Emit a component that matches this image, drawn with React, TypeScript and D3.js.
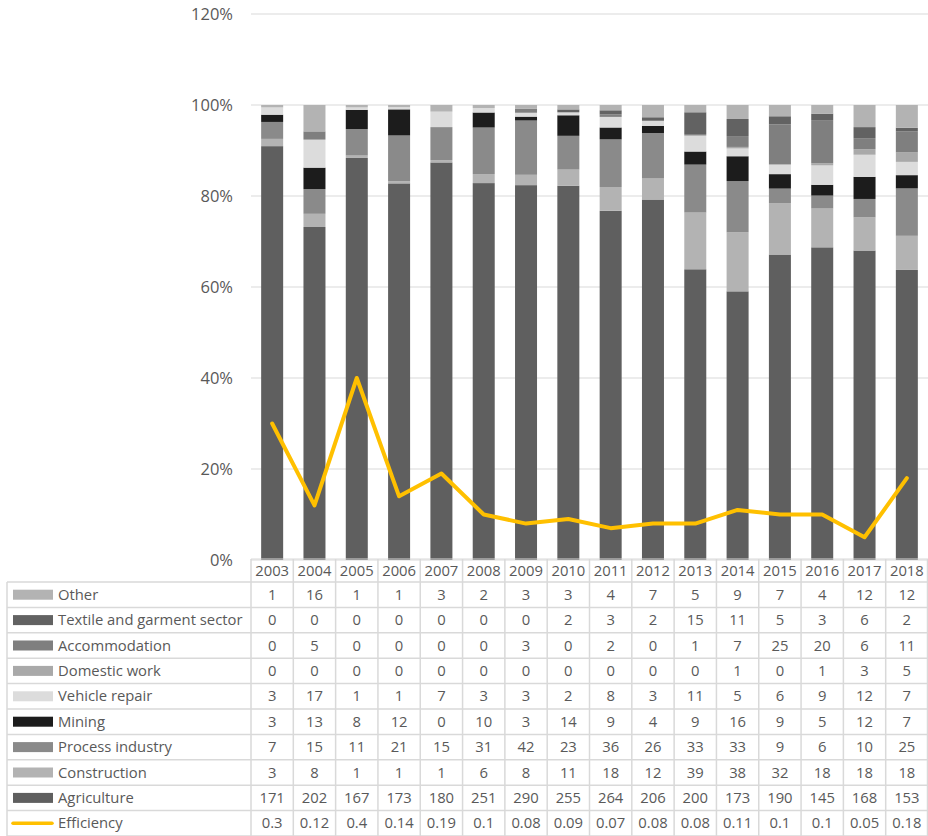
import React from "react";
import * as d3 from "d3";

const years = ["2003","2004","2005","2006","2007","2008","2009","2010","2011","2012","2013","2014","2015","2016","2017","2018"];

// Sector counts per year (stacked bottom → top in this order)
const agriculture = [171,202,167,173,180,251,290,255,264,206,200,173,190,145,168,153];
const construction = [3,8,1,1,1,6,8,11,18,12,39,38,32,18,18,18];
const processIndustry = [7,15,11,21,15,31,42,23,36,26,33,33,9,6,10,25];
const mining = [3,13,8,12,0,10,3,14,9,4,9,16,9,5,12,7];
const vehicleRepair = [3,17,1,1,7,3,3,2,8,3,11,5,6,9,12,7];
const domesticWork = [0,0,0,0,0,0,0,0,0,0,0,1,0,1,3,5];
const accommodation = [0,5,0,0,0,0,3,0,2,0,1,7,25,20,6,11];
const textile = [0,0,0,0,0,0,0,2,3,2,15,11,5,3,6,2];
const other = [1,16,1,1,3,2,3,3,4,7,5,9,7,4,12,12];
const efficiency = [0.3,0.12,0.4,0.14,0.19,0.1,0.08,0.09,0.07,0.08,0.08,0.11,0.1,0.1,0.05,0.18];
const efficiencyLabels = ["0.3","0.12","0.4","0.14","0.19","0.1","0.08","0.09","0.07","0.08","0.08","0.11","0.1","0.1","0.05","0.18"];

const yTicks = [0, 0.2, 0.4, 0.6, 0.8, 1.0, 1.2];

type Series = { key: string; name: string; values: number[]; color: string };

const series: Series[] = [
  { key: "agriculture", name: "Agriculture", values: agriculture, color: "#5f5f5f" },
  { key: "construction", name: "Construction", values: construction, color: "#b3b3b3" },
  { key: "process", name: "Process industry", values: processIndustry, color: "#8a8a8a" },
  { key: "mining", name: "Mining", values: mining, color: "#1c1c1c" },
  { key: "vehicle", name: "Vehicle repair", values: vehicleRepair, color: "#dcdcdc" },
  { key: "domestic", name: "Domestic work", values: domesticWork, color: "#a9a9a9" },
  { key: "accommodation", name: "Accommodation", values: accommodation, color: "#7f7f7f" },
  { key: "textile", name: "Textile and garment sector", values: textile, color: "#626262" },
  { key: "other", name: "Other", values: other, color: "#b3b3b3" },
];

const W = 928;
const H = 836;
const plotLeft = 251;
const plotRight = 928;
const plotTop = 14;
const plotBottom = 560;
const tableTop = 582;
const rowH = 25.4;
const tableLeft = 7;
const FONT = "'Open Sans', sans-serif";
const FS = 14.8;
const TEXT = "#595959";
const GRID = "#d9d9d9";
const LINE = "#ffc000";

export default function App() {
  const x = d3.scaleBand<string>().domain(years).range([plotLeft, plotRight]).padding(0);
  const y = d3.scaleLinear().domain([0, 1.2]).range([plotBottom, plotTop]);
  const barW = x.bandwidth() * 0.52;

  const rows = years.map((yr, i) => {
    const r: Record<string, number | string> = { year: yr };
    series.forEach((s) => (r[s.key] = s.values[i]));
    return r;
  });
  const stack = d3
    .stack<Record<string, number | string>>()
    .keys(series.map((s) => s.key))
    .offset(d3.stackOffsetExpand);
  const layers = stack(rows as any);

  const line = d3
    .line<number>()
    .x((_, i) => (x(years[i]) as number) + x.bandwidth() / 2)
    .y((d) => y(d));

  // table rows top → bottom: series reversed, then the efficiency line
  const tableRows = [...series].reverse();
  const nRows = tableRows.length + 1;

  return (
    <svg
      width={W}
      height={H}
      style={{ position: "absolute", left: 0, top: 0, background: "#fff" }}
      fontFamily={FONT}
    >
      {/* gridlines */}
      {yTicks.map((t) => (
        <line key={t} x1={plotLeft} x2={plotRight} y1={y(t)} y2={y(t)} stroke={GRID} strokeWidth={1} />
      ))}
      {yTicks.map((t) => (
        <text key={"l" + t} x={233} y={y(t)} dy="0.35em" textAnchor="end" fontSize={16.5} fill={TEXT}>
          {d3.format(".0%")(t)}
        </text>
      ))}

      {/* stacked bars */}
      {layers.map((layer, li) => (
        <g key={layer.key} fill={series[li].color}>
          {layer.map((d, i) => {
            const h = y(d[0]) - y(d[1]);
            if (h <= 0) return null;
            return (
              <rect
                key={i}
                x={(x(years[i]) as number) + (x.bandwidth() - barW) / 2}
                y={y(d[1])}
                width={barW}
                height={h}
              />
            );
          })}
        </g>
      ))}

      {/* efficiency line */}
      <path d={line(efficiency) || ""} fill="none" stroke={LINE} strokeWidth={4} strokeLinejoin="round" strokeLinecap="round" />

      {/* data table */}
      <g>
        {/* header row */}
        <line x1={plotLeft} x2={plotRight} y1={plotBottom - 1} y2={plotBottom - 1} stroke={GRID} />
        {years.map((yr) => (
          <text
            key={yr}
            x={(x(yr) as number) + x.bandwidth() / 2}
            y={(plotBottom + tableTop) / 2}
            dy="0.35em"
            textAnchor="middle"
            fontSize={FS}
            fill={TEXT}
          >
            {yr}
          </text>
        ))}
        {/* horizontal rules */}
        {d3.range(nRows + 1).map((k) => (
          <line
            key={"h" + k}
            x1={tableLeft}
            x2={plotRight}
            y1={tableTop + k * rowH}
            y2={tableTop + k * rowH}
            stroke={GRID}
            strokeWidth={1.5}
          />
        ))}
        {/* vertical rules */}
        <line x1={tableLeft} x2={tableLeft} y1={tableTop} y2={H} stroke={GRID} strokeWidth={1.5} />
        {years.map((yr) => (
          <line
            key={"v" + yr}
            x1={x(yr) as number}
            x2={x(yr) as number}
            y1={plotBottom - 1}
            y2={H}
            stroke={GRID}
            strokeWidth={1.5}
          />
        ))}
        <line x1={plotRight - 0.5} x2={plotRight - 0.5} y1={plotBottom - 1} y2={H} stroke={GRID} strokeWidth={1.5} />

        {tableRows.map((s, r) => {
          const cy = tableTop + r * rowH + rowH / 2;
          return (
            <g key={s.key}>
              <rect x={13} y={cy - 5} width={40} height={10} fill={s.color} />
              <text x={58} y={cy} dy="0.35em" fontSize={FS} fill={TEXT}>
                {s.name}
              </text>
              {s.values.map((v, i) => (
                <text
                  key={i}
                  x={(x(years[i]) as number) + x.bandwidth() / 2}
                  y={cy}
                  dy="0.35em"
                  textAnchor="middle"
                  fontSize={FS}
                  fill={TEXT}
                >
                  {v}
                </text>
              ))}
            </g>
          );
        })}
        {(() => {
          const cy = tableTop + tableRows.length * rowH + rowH / 2;
          return (
            <g>
              <line x1={13} x2={52} y1={cy} y2={cy} stroke={LINE} strokeWidth={3.5} strokeLinecap="round" />
              <text x={58} y={cy} dy="0.35em" fontSize={FS} fill={TEXT}>
                Efficiency
              </text>
              {efficiencyLabels.map((v, i) => (
                <text
                  key={i}
                  x={(x(years[i]) as number) + x.bandwidth() / 2}
                  y={cy}
                  dy="0.35em"
                  textAnchor="middle"
                  fontSize={FS}
                  fill={TEXT}
                >
                  {v}
                </text>
              ))}
            </g>
          );
        })()}
      </g>
    </svg>
  );
}
